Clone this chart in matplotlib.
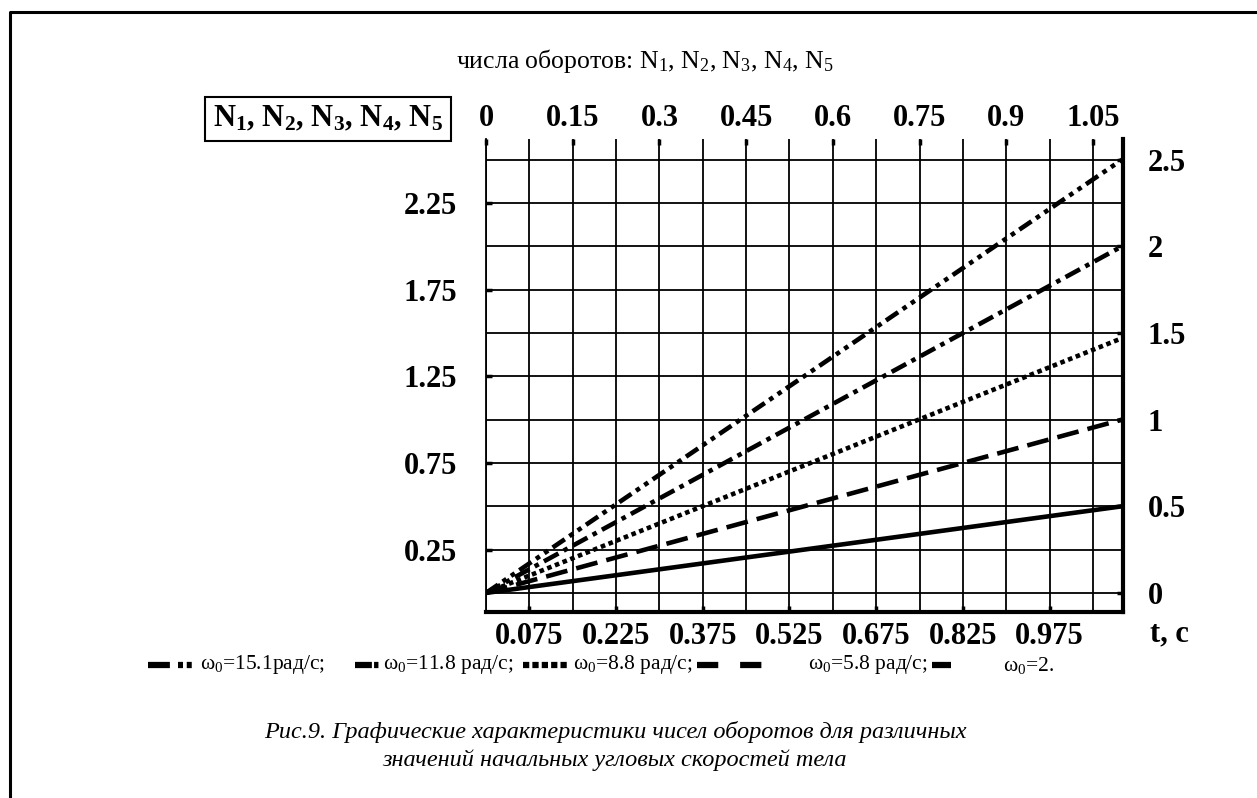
import numpy as np
import matplotlib.pyplot as plt
from matplotlib.lines import Line2D

plt.rcParams['font.family'] = ['Liberation Serif', 'DejaVu Serif']
plt.rcParams['mathtext.fontset'] = 'custom'
plt.rcParams['mathtext.rm'] = 'Liberation Serif'
plt.rcParams['mathtext.it'] = 'Liberation Serif:italic'
plt.rcParams['mathtext.bf'] = 'Liberation Serif:bold'

# data
t = [0.0, 1.1]
N1 = [0.0, 2.5]
N2 = [0.0, 2.0]
N3 = [0.0, 1.47]
N4 = [0.0, 1.0]
N5 = [0.0, 0.5]
omega0 = ['15.1рад/с;', '11.8 рад/с;', '8.8 рад/с;', '5.8 рад/с;', '2.']

top_ticks = [0, 0.15, 0.3, 0.45, 0.6, 0.75, 0.9, 1.05]
top_labels = ['0', '0.15', '0.3', '0.45', '0.6', '0.75', '0.9', '1.05']
bottom_ticks = [0.075, 0.225, 0.375, 0.525, 0.675, 0.825, 0.975]
bottom_labels = ['0.075', '0.225', '0.375', '0.525', '0.675', '0.825', '0.975']
left_ticks = [0.25, 0.75, 1.25, 1.75, 2.25]
left_labels = ['0.25', '0.75', '1.25', '1.75', '2.25']
right_ticks = [0, 0.5, 1, 1.5, 2, 2.5]
right_labels = ['0', '0.5', '1', '1.5', '2', '2.5']
x_grid = np.arange(0, 1.06, 0.075)
y_grid = np.arange(0, 2.6, 0.25)

W, H = 1257, 798
def fx(px):
    return px / W
def fy(py):
    return 1 - py / H

fig = plt.figure(figsize=(W / 100, H / 100), dpi=100)
ax = fig.add_axes([fx(486), fy(612), fx(1123) - fx(486), fy(139) - fy(612)])
ax.set_xlim(0, 1.102)
ax.set_ylim(-0.11, 2.62)

for v in x_grid:
    ax.axvline(v, color='black', lw=1.3, zorder=1)
for v in y_grid:
    ax.axhline(v, color='black', lw=1.3, zorder=1)

styles = [
    (N1, (0, (3.2, 1.2, 1.0, 1.2, 1.0, 1.2))),
    (N2, (0, (3.6, 1.3, 1.0, 1.3))),
    (N3, (0, (1.0, 0.8))),
    (N4, (0, (4.8, 2.0))),
    (N5, '-'),
]
for vals, ls in styles:
    ax.plot(t, vals, color='black', lw=3.3, linestyle=ls, zorder=3,
            solid_capstyle='butt', dash_capstyle='butt')

fs = 22
ax.set_xticks(bottom_ticks)
ax.set_xticklabels(bottom_labels)
ax.set_yticks(left_ticks)
ax.set_yticklabels(left_labels)
ax.tick_params(axis='both', direction='in', length=4, width=2.5,
               labelsize=fs)
ax.tick_params(axis='x', pad=7)
ax.tick_params(axis='y', pad=21)
for lab in ax.get_xticklabels() + ax.get_yticklabels():
    lab.set_fontweight('bold')

ax.spines['top'].set_visible(False)
ax.spines['left'].set_linewidth(1.3)
ax.spines['bottom'].set_linewidth(3)
ax.spines['right'].set_linewidth(3)

axt = ax.twiny()
axt.set_xlim(ax.get_xlim())
axt.set_xticks(top_ticks)
axt.set_xticklabels(top_labels, fontweight='bold')
axt.tick_params(direction='in', length=4, width=2.5, labelsize=fs, pad=4)
for s in axt.spines.values():
    s.set_visible(False)

axr = ax.twinx()
axr.set_ylim(ax.get_ylim())
axr.set_yticks(right_ticks)
axr.set_yticklabels(right_labels, fontweight='bold')
axr.tick_params(direction='in', length=4, width=2.5, labelsize=fs, pad=18)
for s in axr.spines.values():
    s.set_visible(False)

# labels around the plot
fig.text(fx(1150), fy(634), 't, c', fontsize=fs, fontweight='bold',
         ha='left', va='center')
fig.text(fx(328), fy(119), 'N$_\\mathbf{1}$, N$_\\mathbf{2}$, N$_\\mathbf{3}$, N$_\\mathbf{4}$, N$_\\mathbf{5}$',
         fontsize=fs, fontweight='bold', ha='center', va='center',
         bbox=dict(boxstyle='square,pad=0.25', fc='white', ec='black', lw=1.5))
fig.text(fx(645), fy(61), 'числа оборотов: N$_1$, N$_2$, N$_3$, N$_4$, N$_5$',
         fontsize=18.5, ha='center', va='center')

# legend row
leg_y = fy(665)
samples = [
    ((148, 194), (0, (3.5, 1.3, 0.8, 0.6, 0.8, 3))),
    ((355, 379), (0, (2.7, 0.35, 0.7, 5))),
    ((523, 568), (0, (1.0, 0.5))),
    ((697, 763), (0, (3.4, 3.5))),
    ((932, 951), '-'),
]
text_x = [200, 383, 573, 808, 1003]
for (x0, x1), ls in samples:
    fig.add_artist(Line2D([fx(x0), fx(x1)], [leg_y, leg_y], color='black',
                          lw=4.5, linestyle=ls, transform=fig.transFigure,
                          solid_capstyle='butt', dash_capstyle='butt'))
for x0, lab in zip(text_x, omega0):
    fig.text(fx(x0), leg_y, 'ω$_0$=' + lab, fontsize=15.5, ha='left', va='center')

# caption
fig.text(fx(615), fy(732), 'Рис.9. Графические характеристики чисел оборотов для различных',
         fontsize=17.5, style='italic', ha='center', va='center')
fig.text(fx(615), fy(760), 'значений начальных угловых скоростей тела',
         fontsize=17.5, style='italic', ha='center', va='center')

# page frame
fig.add_artist(Line2D([fx(10), fx(10), fx(1257)], [fy(798), fy(12), fy(12)],
                      color='black', lw=2.2, transform=fig.transFigure))

fig.savefig('out.png', dpi=100)
